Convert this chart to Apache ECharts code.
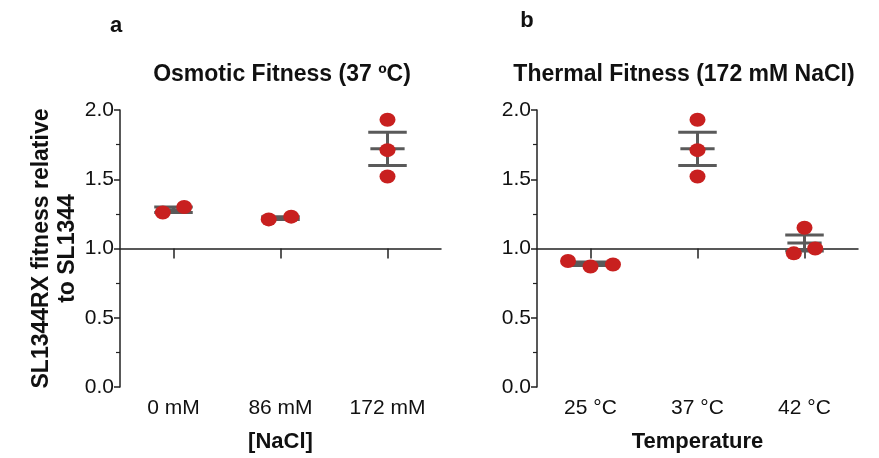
<!DOCTYPE html>
<html><head><meta charset="utf-8">
<script src="https://cdn.jsdelivr.net/npm/echarts@6/dist/echarts.min.js"></script>
<style>html,body{margin:0;padding:0;background:#fff}#c{width:879px;height:458px}</style>
</head><body><div id="c"></div>
<script>
// ---- data ----
const naclLabels = ['0 mM', '86 mM', '172 mM'];
const tempLabels = ['25 °C', '37 °C', '42 °C'];
const yAxisMin = 0, yAxisMax = 2, yAxisStep = 0.5, crossAt = 1.0;

const osmoticGroup  = [0, 0, 1, 1, 2, 2, 2];
const osmoticJitter = [-0.1, 0.1, -0.11, 0.1, 0, 0, 0];
const osmoticValues = [1.26, 1.30, 1.21, 1.23, 1.93, 1.71, 1.52];
const osmoticMean   = [1.28, 1.22, 1.72];
const osmoticSem    = [0.02, 0.01, 0.12];

const thermalGroup  = [0, 0, 0, 1, 1, 1, 2, 2, 2];
const thermalJitter = [-0.21, 0, 0.21, 0, 0, 0, 0, -0.1, 0.1];
const thermalValues = [0.91, 0.87, 0.885, 1.93, 1.71, 1.52, 1.15, 0.965, 1.0];
const thermalMean   = [0.89, 1.72, 1.04];
const thermalSem    = [0.012, 0.12, 0.058];

// ---- chart ----
const FONT = 'Liberation Sans, Arial, sans-serif';
const AXC = '#222';
const PT = '#c8201f';
const BAR = '#5a5a5a';

const chart = echarts.init(document.getElementById('c'));

function yAxisFor(i, withName) {
  const ax = {
    gridIndex: i, type: 'value',
    min: yAxisMin - crossAt, max: yAxisMax - crossAt, interval: yAxisStep,
    axisLine: { show: true, onZero: false, lineStyle: { color: AXC, width: 1.5 } },
    axisTick: { show: true, length: 6, lineStyle: { color: AXC, width: 1.5 } },
    minorTick: { show: true, splitNumber: 2, length: 4, lineStyle: { color: AXC, width: 1.2 } },
    splitLine: { show: false },
    axisLabel: { formatter: v => (v + crossAt).toFixed(1), fontSize: 21, color: '#111', fontFamily: FONT, margin: 6 }
  };
  if (withName) {
    ax.name = 'SL1344RX fitness relative\nto SL1344';
    ax.nameLocation = 'middle';
    ax.nameGap = 38;
    ax.nameTextStyle = { fontSize: 23, fontWeight: 'bold', color: '#111', fontFamily: FONT, lineHeight: 26 };
  }
  return ax;
}

function xAxesFor(i, labels, name) {
  return [
    { gridIndex: i, type: 'value', min: 0, max: 3, show: false, axisLine: { onZero: false } },
    { gridIndex: i, type: 'category', data: labels, position: 'bottom',
      axisLine: { show: false, onZero: false }, axisTick: { show: false },
      axisLabel: { fontSize: 21, color: '#111', fontFamily: FONT, margin: 11 },
      name: name, nameLocation: 'middle', nameGap: 44,
      nameTextStyle: { fontSize: 22, fontWeight: 'bold', color: '#111', fontFamily: FONT } },
    { gridIndex: i, type: 'category', data: labels, position: 'bottom',
      axisLine: { show: true, onZero: true, lineStyle: { color: AXC, width: 1.5 } },
      axisTick: { show: true, alignWithLabel: true, length: 10, lineStyle: { color: AXC, width: 1.5 } },
      axisLabel: { show: false } }
  ];
}

function errRender(params, api) {
  const x = api.value(0), m = api.value(1), s = api.value(2);
  const capW = 0.18, meanW = 0.16;
  const top = api.coord([x, m + s]), bot = api.coord([x, m - s]);
  const mid = api.coord([x, m]);
  const cl = api.coord([x - capW, m])[0], cr = api.coord([x + capW, m])[0];
  const ml = api.coord([x - meanW, m])[0], mr = api.coord([x + meanW, m])[0];
  const st = { stroke: BAR, lineWidth: 3 };
  return { type: 'group', children: [
    { type: 'line', shape: { x1: top[0], y1: top[1], x2: bot[0], y2: bot[1] }, style: st },
    { type: 'line', shape: { x1: cl, y1: top[1], x2: cr, y2: top[1] }, style: st },
    { type: 'line', shape: { x1: cl, y1: bot[1], x2: cr, y2: bot[1] }, style: st },
    { type: 'line', shape: { x1: ml, y1: mid[1], x2: mr, y2: mid[1] }, style: st }
  ]};
}

function seriesFor(gi, groups, jitter, values, means, sems) {
  return [
    { type: 'custom', xAxisIndex: gi * 3, yAxisIndex: gi, renderItem: errRender, z: 2,
      data: means.map((m, k) => [k + 0.5, m - crossAt, sems[k]]) },
    { type: 'scatter', xAxisIndex: gi * 3, yAxisIndex: gi, symbol: 'circle', symbolSize: [16, 14], z: 3,
      itemStyle: { color: PT, opacity: 1 },
      data: values.map((v, k) => [groups[k] + 0.5 + jitter[k], v - crossAt]) }
  ];
}

const txt = (t, x, y, size) => ({ type: 'text', x: x, y: y, z: 10,
  style: { text: t, fontSize: size, fontWeight: 'bold', fontFamily: FONT, fill: '#111', align: 'center', verticalAlign: 'middle' } });

chart.setOption({
  backgroundColor: '#fff',
  animation: false,
  grid: [
    { left: 120, top: 110, width: 321, height: 278 },
    { left: 537, top: 110, width: 321, height: 278 }
  ],
  xAxis: [].concat(xAxesFor(0, naclLabels, '[NaCl]'), xAxesFor(1, tempLabels, 'Temperature')),
  yAxis: [yAxisFor(0, true), yAxisFor(1, false)],
  series: [].concat(
    seriesFor(0, osmoticGroup, osmoticJitter, osmoticValues, osmoticMean, osmoticSem),
    seriesFor(1, thermalGroup, thermalJitter, thermalValues, thermalMean, thermalSem)
  ),
  graphic: [
    txt('a', 116, 26, 22),
    txt('b', 527, 21, 22),
    txt('Osmotic Fitness (37 ºC)', 282, 75, 23),
    txt('Thermal Fitness (172 mM NaCl)', 684, 75, 23)
  ]
});
</script></body></html>
